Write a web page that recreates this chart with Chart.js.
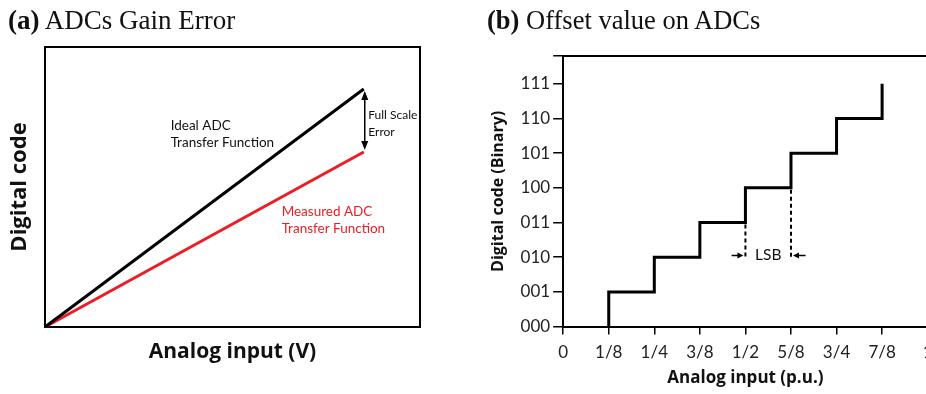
<!DOCTYPE html>
<html>
<head>
<meta charset="utf-8">
<script src="https://cdn.jsdelivr.net/npm/chart.js@4"></script>
<style>
  html, body { margin: 0; padding: 0; width: 926px; height: 394px; overflow: hidden; background: #fff; }
  .panel { position: absolute; top: 0; height: 394px; }
  #pa { left: 0; width: 460px; }
  #pb { left: 460px; width: 480px; }
  .ttl { position: absolute; top: 5px; font-family: "Liberation Serif", "DejaVu Serif", serif;
         line-height: 30px; color: #111; white-space: nowrap; }
  .ttl b { font-weight: bold; }
</style>
</head>
<body>
<div class="panel" id="pa"><canvas id="ca" width="460" height="394"></canvas></div>
<div class="panel" id="pb"><canvas id="cb" width="480" height="394"></canvas></div>
<div class="ttl" style="left:8px; font-size:27px"><b>(a)</b> ADCs Gain Error</div>
<div class="ttl" style="left:487px; font-size:26.5px"><b>(b)</b> Offset value on ADCs</div>

<script>
// ---- (a) gain error: normalised input vs. output code ----
const gainInput    = [0, 0.85];
const idealCode    = [0, 0.85];
const measuredCode = [0, 0.625];

// ---- (b) offset: 3-bit ADC staircase ----
const xTickLabels = ['0', '1/8', '1/4', '3/8', '1/2', '5/8', '3/4', '7/8', '1'];
const yTickLabels = ['000', '001', '010', '011', '100', '101', '110', '111'];
const transitionInputs = [1/8, 2/8, 3/8, 4/8, 5/8, 6/8, 7/8];
const outputCodes = [0, 1, 2, 3, 4, 5, 6, 7];
const yTop = 7.8;

const SANS = 'Lato, "Open Sans", sans-serif';
const BOLD = '"Open Sans", Lato, sans-serif';
const INK = '#111';

function arrowHead(ctx, x, y, dx, dy, len, half) {
  // filled triangle with its tip at (x, y), pointing along (dx, dy)
  const n = Math.hypot(dx, dy); dx /= n; dy /= n;
  ctx.beginPath();
  ctx.moveTo(x, y);
  ctx.lineTo(x - dx * len - dy * half, y - dy * len + dx * half);
  ctx.lineTo(x - dx * len + dy * half, y - dy * len - dx * half);
  ctx.closePath();
  ctx.fill();
}

const gainNotes = {
  id: 'gainNotes',
  afterDatasetsDraw(chart) {
    const { ctx, scales: { x, y } } = chart;
    ctx.save();
    // full-scale error double arrow between the two end points
    const ax = x.getPixelForValue(gainInput[1]) + 1;
    const y1 = y.getPixelForValue(idealCode[1]) + 2;
    const y2 = y.getPixelForValue(measuredCode[1]) - 2;
    ctx.strokeStyle = '#000'; ctx.fillStyle = '#000'; ctx.lineWidth = 1.5;
    ctx.beginPath(); ctx.moveTo(ax, y1 + 6); ctx.lineTo(ax, y2 - 6); ctx.stroke();
    arrowHead(ctx, ax, y1, 0, -1, 9, 3.5);
    arrowHead(ctx, ax, y2, 0, 1, 9, 3.5);

    ctx.textBaseline = 'middle';
    ctx.textAlign = 'left';
    ctx.font = '12px ' + SANS;
    ctx.fillStyle = '#111';
    ctx.fillText('Full Scale', x.getPixelForValue(0.862), y.getPixelForValue(0.757));
    ctx.fillText('Error', x.getPixelForValue(0.862), y.getPixelForValue(0.696));

    ctx.font = '13.5px ' + SANS;
    ctx.fillText('Ideal ADC', x.getPixelForValue(0.335), y.getPixelForValue(0.719));
    ctx.fillText('Transfer Function', x.getPixelForValue(0.335), y.getPixelForValue(0.657));
    ctx.fillStyle = '#ee1c24';
    ctx.fillText('Measured ADC', x.getPixelForValue(0.631), y.getPixelForValue(0.412));
    ctx.fillText('Transfer Function', x.getPixelForValue(0.631), y.getPixelForValue(0.350));
    ctx.restore();
  }
};

const frameAxis = (position) => ({
  type: 'linear', position, min: 0, max: 1, display: true,
  ticks: { display: false },
  grid: { display: false, drawTicks: false },
  border: { display: true, color: '#000', width: 2 }
});

new Chart(document.getElementById('ca'), {
  type: 'line',
  data: {
    datasets: [
      { label: 'Ideal ADC Transfer Function',
        data: gainInput.map((v, i) => ({ x: v, y: idealCode[i] })),
        borderColor: '#000', borderWidth: 3, pointRadius: 0, clip: false },
      { label: 'Measured ADC Transfer Function',
        data: gainInput.map((v, i) => ({ x: v, y: measuredCode[i] })),
        borderColor: '#ee1c24', borderWidth: 3, pointRadius: 0, clip: false }
    ]
  },
  options: {
    responsive: false, animation: false,
    layout: { padding: { left: 7, top: 47, right: 40, bottom: 29.4 } },
    plugins: { legend: { display: false }, tooltip: { enabled: false } },
    scales: {
      x: { ...frameAxis('bottom'),
           title: { display: true, text: 'Analog input (V)', color: INK,
                    font: { family: BOLD, size: 21, weight: 'bold' }, padding: { top: 12.4, bottom: 0 } } },
      y: { ...frameAxis('left'),
           title: { display: true, text: 'Digital code', color: INK,
                    font: { family: BOLD, size: 22, weight: 'bold' }, padding: { top: 0, bottom: 11.6 } } },
      x2: frameAxis('top'),
      y2: frameAxis('right')
    }
  },
  plugins: [gainNotes]
});

// staircase points: vertical jump at each transition, flat until the next one
const stairs = [{ x: transitionInputs[0], y: outputCodes[0] }];
for (let k = 1; k < outputCodes.length; k++) {
  stairs.push({ x: transitionInputs[k - 1], y: outputCodes[k] });
  if (k < transitionInputs.length) stairs.push({ x: transitionInputs[k], y: outputCodes[k] });
}

const lsbNotes = {
  id: 'lsbNotes',
  afterDatasetsDraw(chart) {
    const { ctx, scales: { x, y } } = chart;
    const lo = transitionInputs[3], hi = transitionInputs[4];
    const yArrow = y.getPixelForValue(2.05);
    ctx.save();
    ctx.strokeStyle = '#000'; ctx.fillStyle = '#000';
    ctx.lineWidth = 2;
    ctx.setLineDash([4, 3]);
    ctx.beginPath();
    ctx.moveTo(x.getPixelForValue(lo), y.getPixelForValue(outputCodes[3]) + 2); ctx.lineTo(x.getPixelForValue(lo), yArrow + 2);
    ctx.moveTo(x.getPixelForValue(hi), y.getPixelForValue(outputCodes[4]) + 2); ctx.lineTo(x.getPixelForValue(hi), yArrow + 2);
    ctx.stroke();
    ctx.setLineDash([]);
    ctx.lineWidth = 1.3;
    const l0 = x.getPixelForValue(0.462), l1 = x.getPixelForValue(lo) - 2;
    const r0 = x.getPixelForValue(0.665), r1 = x.getPixelForValue(hi) + 2;
    ctx.beginPath();
    ctx.moveTo(l0, yArrow); ctx.lineTo(l1 - 4, yArrow);
    ctx.moveTo(r0, yArrow); ctx.lineTo(r1 + 4, yArrow);
    ctx.stroke();
    arrowHead(ctx, l1, yArrow, 1, 0, 6, 3);
    arrowHead(ctx, r1, yArrow, -1, 0, 6, 3);
    ctx.font = '15.5px ' + SANS;
    ctx.textAlign = 'center'; ctx.textBaseline = 'middle';
    ctx.fillStyle = '#111';
    ctx.fillText('LSB', x.getPixelForValue((lo + hi) / 2), yArrow);
    ctx.restore();
  }
};

new Chart(document.getElementById('cb'), {
  type: 'line',
  data: {
    datasets: [{ label: 'Output code', data: stairs, borderColor: '#000', borderWidth: 3,
                 pointRadius: 0, borderJoinStyle: 'miter', borderCapStyle: 'butt', clip: false }]
  },
  options: {
    responsive: false, animation: false,
    layout: { padding: { left: 20, top: 56, right: 10.5, bottom: 5.8 } },
    plugins: { legend: { display: false }, tooltip: { enabled: false } },
    scales: {
      x: {
        type: 'linear', position: 'bottom', min: 0, max: 1,
        afterBuildTicks: (s) => { s.ticks = xTickLabels.map((_, i) => ({ value: i / 8 })); },
        ticks: { callback: (v, i) => xTickLabels[i], autoSkip: false, maxRotation: 0, padding: 7.4,
                 color: '#222', font: { family: SANS, size: 17 } },
        grid: { display: true, drawOnChartArea: false, drawTicks: true, tickLength: 8, color: '#000', lineWidth: 1.5 },
        border: { display: true, color: '#000', width: 2 },
        title: { display: true, text: 'Analog input (p.u.)', color: INK,
                 font: { family: BOLD, size: 17, weight: 'bold' }, padding: { top: -2, bottom: 0 } }
      },
      y: {
        type: 'linear', position: 'left', min: 0, max: yTop,
        afterBuildTicks: (s) => { s.ticks = yTickLabels.map((_, i) => ({ value: i })).concat([{ value: yTop }]); },
        ticks: { callback: (v, i) => yTickLabels[i] ?? '', autoSkip: false, padding: 3,
                 color: '#222', font: { family: SANS, size: 17 } },
        grid: { display: true, drawOnChartArea: false, drawTicks: true, tickLength: 10, color: '#000', lineWidth: 1.5 },
        border: { display: true, color: '#000', width: 2 },
        title: { display: true, text: 'Digital code (Binary)', color: INK,
                 font: { family: BOLD, size: 16, weight: 'bold' }, padding: { top: 8.4, bottom: 10 } }
      },
      x2: {
        type: 'linear', position: 'top', min: 0, max: 1, display: true,
        ticks: { display: false },
        grid: { display: false, drawTicks: false },
        border: { display: true, color: '#000', width: 2 }
      }
    }
  },
  plugins: [lsbNotes]
});
</script>
</body>
</html>
